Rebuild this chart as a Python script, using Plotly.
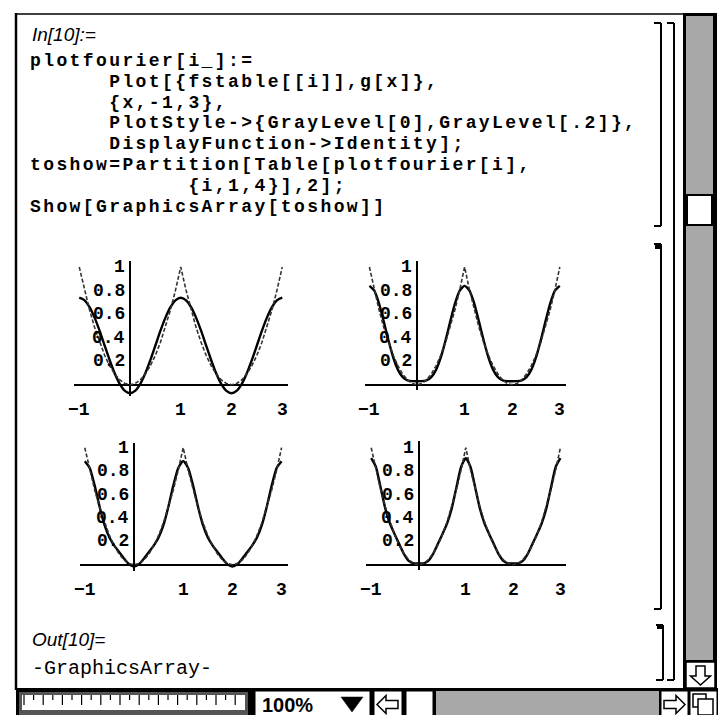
import plotly.graph_objects as go

# ---------------- data ----------------
X = [-1.0, -0.9, -0.8, -0.7, -0.6, -0.5, -0.4, -0.3, -0.2, -0.1, 0.0,
     0.1, 0.2, 0.3, 0.4, 0.5, 0.6, 0.7, 0.8, 0.9, 1.0,
     1.1, 1.2, 1.3, 1.4, 1.5, 1.6, 1.7, 1.8, 1.9, 2.0,
     2.1, 2.2, 2.3, 2.4, 2.5, 2.6, 2.7, 2.8, 2.9, 3.0]

G = [1.0, 0.81, 0.64, 0.49, 0.36, 0.25, 0.16, 0.09, 0.04, 0.01, 0.0,
     0.01, 0.04, 0.09, 0.16, 0.25, 0.36, 0.49, 0.64, 0.81, 1.0,
     0.81, 0.64, 0.49, 0.36, 0.25, 0.16, 0.09, 0.04, 0.01, 0.0,
     0.01, 0.04, 0.09, 0.16, 0.25, 0.36, 0.49, 0.64, 0.81, 1.0]

FS1 = [0.739, 0.719, 0.661, 0.572, 0.459, 0.333, 0.208, 0.095, 0.005, -0.052, -0.072,
       -0.052, 0.005, 0.095, 0.208, 0.333, 0.459, 0.572, 0.661, 0.719, 0.739,
       0.719, 0.661, 0.572, 0.459, 0.333, 0.208, 0.095, 0.005, -0.052, -0.072,
       -0.052, 0.005, 0.095, 0.208, 0.333, 0.459, 0.572, 0.661, 0.719, 0.739]

FS2 = [0.840, 0.801, 0.693, 0.540, 0.377, 0.232, 0.126, 0.064, 0.037, 0.030, 0.029,
       0.030, 0.037, 0.064, 0.126, 0.232, 0.377, 0.540, 0.693, 0.801, 0.840,
       0.801, 0.693, 0.540, 0.377, 0.232, 0.126, 0.064, 0.037, 0.030, 0.029,
       0.030, 0.037, 0.064, 0.126, 0.232, 0.377, 0.540, 0.693, 0.801, 0.840]

FS3 = [0.885, 0.827, 0.679, 0.497, 0.340, 0.232, 0.163, 0.107, 0.051, 0.003, -0.016,
       0.003, 0.051, 0.107, 0.163, 0.232, 0.340, 0.497, 0.679, 0.827, 0.885,
       0.827, 0.679, 0.497, 0.340, 0.232, 0.163, 0.107, 0.051, 0.003, -0.016,
       0.003, 0.051, 0.107, 0.163, 0.232, 0.340, 0.497, 0.679, 0.827, 0.885]

FS4 = [0.910, 0.835, 0.658, 0.477, 0.348, 0.257, 0.170, 0.086, 0.030, 0.011, 0.010,
       0.011, 0.030, 0.086, 0.170, 0.257, 0.348, 0.477, 0.658, 0.835, 0.910,
       0.835, 0.658, 0.477, 0.348, 0.257, 0.170, 0.086, 0.030, 0.011, 0.010,
       0.011, 0.030, 0.086, 0.170, 0.257, 0.348, 0.477, 0.658, 0.835, 0.910]

FSTABLE = [FS1, FS2, FS3, FS4]

XTICKS = [-1, 1, 2, 3]
XTICK_LABELS = ["\u22121", "1", "2", "3"]
YTICKS = [0.2, 0.4, 0.6, 0.8, 1.0]
YTICK_LABELS = ["0.2", "0.4", "0.6", "0.8", "1"]

IN_LABEL = "In[10]:="
OUT_LABEL = "Out[10]="
OUT_TEXT = "-GraphicsArray-"
CODE_LINES = [
    (0, "plotfourier[i_]:="),
    (6, "Plot[{fstable[[i]],g[x]},"),
    (6, "{x,-1,3},"),
    (6, "PlotStyle->{GrayLevel[0],GrayLevel[.2]},"),
    (6, "DisplayFunction->Identity];"),
    (0, "toshow=Partition[Table[plotfourier[i],"),
    (12, "{i,1,4}],2];"),
    (0, "Show[GraphicsArray[toshow]]"),
]
ZOOM_TEXT = "100%"

# ---------------- layout helpers ----------------
W, H = 727, 715


def fx(px):
    return px / W


def fy(py):
    return 1 - py / H


XR = (-1.1, 3.12)
PANELS = [
    dict(ax="", x0=122, sx=50.75, y0=376.7, sy=117.7, yr=(-0.095, 1.05)),
    dict(ax="2", x0=409, sx=47.6, y0=376.7, sy=117.7, yr=(-0.045, 1.05)),
    dict(ax="3", x0=126, sx=49.2, y0=556.7, sy=117.0, yr=(-0.055, 1.04)),
    dict(ax="4", x0=410.5, sx=47.3, y0=556.7, sy=117.0, yr=(-0.045, 1.06)),
]

fig = go.Figure()
layout = dict(
    width=W, height=H, autosize=False,
    margin=dict(l=0, r=0, t=0, b=0),
    paper_bgcolor="white", plot_bgcolor="rgba(0,0,0,0)",
    showlegend=False,
)
annotations = []
shapes = []

tick_font = dict(family="Liberation Mono", size=18, color="black", weight="bold")

for p, fs in zip(PANELS, FSTABLE):
    a = p["ax"]
    xd = [fx(p["x0"] + p["sx"] * XR[0]), fx(p["x0"] + p["sx"] * XR[1])]
    yd = [fy(p["y0"] - p["sy"] * p["yr"][0]), fy(p["y0"] - p["sy"] * p["yr"][1])]
    layout["xaxis" + a] = dict(domain=xd, range=list(XR), anchor="y" + a,
                               showgrid=False, showticklabels=False, ticks="",
                               zeroline=True, zerolinecolor="black", zerolinewidth=2,
                               showline=False, fixedrange=True)
    layout["yaxis" + a] = dict(domain=yd, range=list(p["yr"]), anchor="x" + a,
                               showgrid=False, showticklabels=False, ticks="",
                               zeroline=True, zerolinecolor="black", zerolinewidth=2,
                               showline=False, fixedrange=True)
    fig.add_trace(go.Scatter(x=X, y=fs, xaxis="x" + a, yaxis="y" + a, mode="lines",
                             line=dict(color="black", width=2.4, shape="spline", smoothing=0.6),
                             hoverinfo="skip"))
    fig.add_trace(go.Scatter(x=X, y=G, xaxis="x" + a, yaxis="y" + a, mode="lines",
                             line=dict(color="#333333", width=1.6, dash="4px,2px"),
                             hoverinfo="skip"))
    for v, t in zip(XTICKS, XTICK_LABELS):
        annotations.append(dict(x=v, y=0, xref="x" + a, yref="y" + a, text=t,
                                showarrow=False, yshift=-25, xanchor="center",
                                yanchor="middle", font=tick_font))
    for v, t in zip(YTICKS, YTICK_LABELS):
        annotations.append(dict(x=0, y=v, xref="x" + a, yref="y" + a, text=t,
                                showarrow=False, xshift=-3, xanchor="right",
                                yanchor="middle", font=tick_font))

# ---------------- notebook text ----------------
label_font = dict(family="Liberation Sans", size=19, color="black", style="italic")
NBSP = "\u00a0"
SPAN = '<span style="font-size:18px;letter-spacing:2.4px">'
code_html = "<br>".join(SPAN + NBSP * ind + txt + "</span>" for ind, txt in CODE_LINES)
# base font size 16 -> line pitch 1.3 * 16 = 20.8 px; glyph cell 10.8 + 2.4 = 13.2 px
annotations.append(dict(x=fx(20), y=fy(125.5), xref="paper", yref="paper", text=code_html,
                        showarrow=False, xanchor="left", yanchor="middle", align="left",
                        font=dict(family="Liberation Mono", size=16, color="black", weight="bold")))

annotations.append(dict(x=fx(22), y=fy(27), xref="paper", yref="paper", text=IN_LABEL,
                        showarrow=False, xanchor="left", yanchor="middle", font=label_font))
annotations.append(dict(x=fx(22), y=fy(631), xref="paper", yref="paper", text=OUT_LABEL,
                        showarrow=False, xanchor="left", yanchor="middle", font=label_font))
annotations.append(dict(x=fx(22), y=fy(660), xref="paper", yref="paper", text=OUT_TEXT,
                        showarrow=False, xanchor="left", yanchor="middle",
                        font=dict(family="Liberation Mono", size=20, color="black")))

# ---------------- window chrome ----------------


def rect(x0, y0, x1, y1, fill="white", lc="black", lw=1.5):
    shapes.append(dict(type="rect", xref="paper", yref="paper",
                       x0=fx(x0), x1=fx(x1), y0=fy(y1), y1=fy(y0),
                       fillcolor=fill, line=dict(color=lc, width=lw), layer="above"))


def line(x0, y0, x1, y1, lw=2, color="black"):
    shapes.append(dict(type="line", xref="paper", yref="paper",
                       x0=fx(x0), x1=fx(x1), y0=fy(y0), y1=fy(y1),
                       line=dict(color=color, width=lw), layer="above"))


def path(pts, fill="white", lw=1.5):
    d = "M " + " L ".join("%.5f,%.5f" % (fx(a), fy(b)) for a, b in pts) + " Z"
    shapes.append(dict(type="path", xref="paper", yref="paper", path=d,
                       fillcolor=fill, line=dict(color="black", width=lw), layer="above"))


# window frame
line(8, 5, 8, 682, lw=2.5)
line(8, 6, 676, 6, lw=1.5)


# cell brackets
def bracket(x, y0, y1, hook=7, lw=2):
    line(x, y0, x, y1, lw=lw)
    line(x - hook, y0, x, y0, lw=lw)
    line(x - hook, y1, x, y1, lw=lw)


bracket(653, 15, 218)
bracket(666, 15, 672)
bracket(653, 236, 601)
rect(647, 236, 653, 241, fill="black", lw=0)
bracket(655, 617, 672)
rect(649, 617, 655, 621, fill="black", lw=0)

# vertical scroll bar
rect(675, 5, 709, 682, fill="black", lc="black", lw=0)
rect(678, 8, 705, 652, fill="#a8a8a8", lc="#a8a8a8", lw=0)
rect(679, 187, 704, 217, fill="white", lc="black", lw=2)
rect(678, 654, 707, 680, fill="white", lc="black", lw=1.5)
path([(692.5, 677), (682.5, 668), (688, 668), (688, 658), (697, 658), (697, 668), (702.5, 668)])

# bottom bar
rect(8, 680, 710, 713, fill="black", lc="black", lw=0)
# ruler
rect(11, 684, 240, 711, fill="#555555", lc="#555555", lw=0)
rect(14, 687, 237, 702, fill="white", lc="white", lw=0)
k = 0
xx = 16.0
while xx < 236:
    line(xx, 687, xx, 692 if k % 2 else 697, lw=1.2)
    xx += 9.6
    k += 1
# zoom box
rect(247, 683, 362, 710, fill="white", lw=1)
annotations.append(dict(x=fx(252), y=fy(697), xref="paper", yref="paper", text=ZOOM_TEXT,
                        showarrow=False, xanchor="left", yanchor="middle",
                        font=dict(family="Liberation Sans", size=20, color="black", weight="bold")))
path([(333, 689), (355, 689), (344, 704)], fill="black", lw=0.5)
# left arrow box
rect(366, 683, 394, 710, fill="white", lw=1)
path([(369, 696.5), (378, 687.5), (378, 692.5), (390, 692.5), (390, 700.5), (378, 700.5), (378, 705.5)])
# white box
rect(398, 683, 425, 710, fill="white", lw=1)
# horizontal dotted track
rect(428, 683, 651, 710, fill="#a8a8a8", lc="#a8a8a8", lw=0)
# right arrow box
rect(653, 683, 680, 710, fill="white", lw=1)
path([(677, 696.5), (668, 687.5), (668, 692.5), (656, 692.5), (656, 700.5), (668, 700.5), (668, 705.5)])
# resize box
rect(682, 683, 709, 710, fill="white", lw=1)
rect(685, 686, 698, 699, fill="white", lw=1.5)
rect(690, 691, 705, 707, fill="white", lw=1.5)
# stray black mark at bottom right
rect(722, 703, 727, 715, fill="black", lc="black", lw=0)

layout["annotations"] = annotations
layout["shapes"] = shapes
fig.update_layout(**layout)
fig.write_html("out.html")
